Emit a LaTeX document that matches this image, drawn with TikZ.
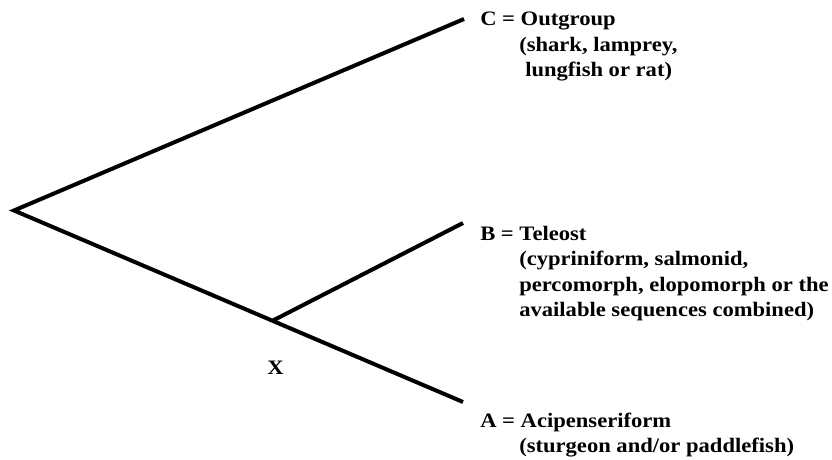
\documentclass[tikz,border=0pt]{standalone}
\usepackage{fontspec}
\setmainfont{Liberation Serif}[BoldFeatures={FakeStretch=1.1}]
\begin{document}
\begin{tikzpicture}[x=0.75pt,y=-0.75pt,
  branch/.style={line width=3pt},
  lbl/.style={anchor=base west,inner sep=0pt,font=\bfseries\fontsize{15.4}{19}\selectfont}]
\useasboundingbox (0,0) rectangle (832,460);
\coordinate (root) at (14,210.5);
\coordinate (Cend) at (464,19);
\coordinate (Bend) at (463,223);
\coordinate (Aend) at (463,402);
\coordinate (junc) at (273,320.5);
\draw[branch] (Cend) -- (root) -- (Aend);
\draw[branch] (junc) -- (Bend);
\node[lbl] (c1) at (480,26) {C = Outgroup};
\node[lbl] (c2) at (519,51.5) {(shark, lamprey,};
\node[lbl] (c3) at (525,77) {lungfish or rat)};
\node[lbl] (b1) at (480,240) {B = Teleost};
\node[lbl] (b2) at (519,265.5) {(cypriniform, salmonid,};
\node[lbl] (b3) at (519,291) {percomorph, elopomorph or the};
\node[lbl] (b4) at (519,316.5) {available sequences combined)};
\node[lbl] (a1) at (480,427) {A = Acipenseriform};
\node[lbl] (a2) at (519,452) {(sturgeon and/or paddlefish)};
\node[lbl,anchor=base] (x) at (275.5,374) {X};
\end{tikzpicture}
\end{document}
